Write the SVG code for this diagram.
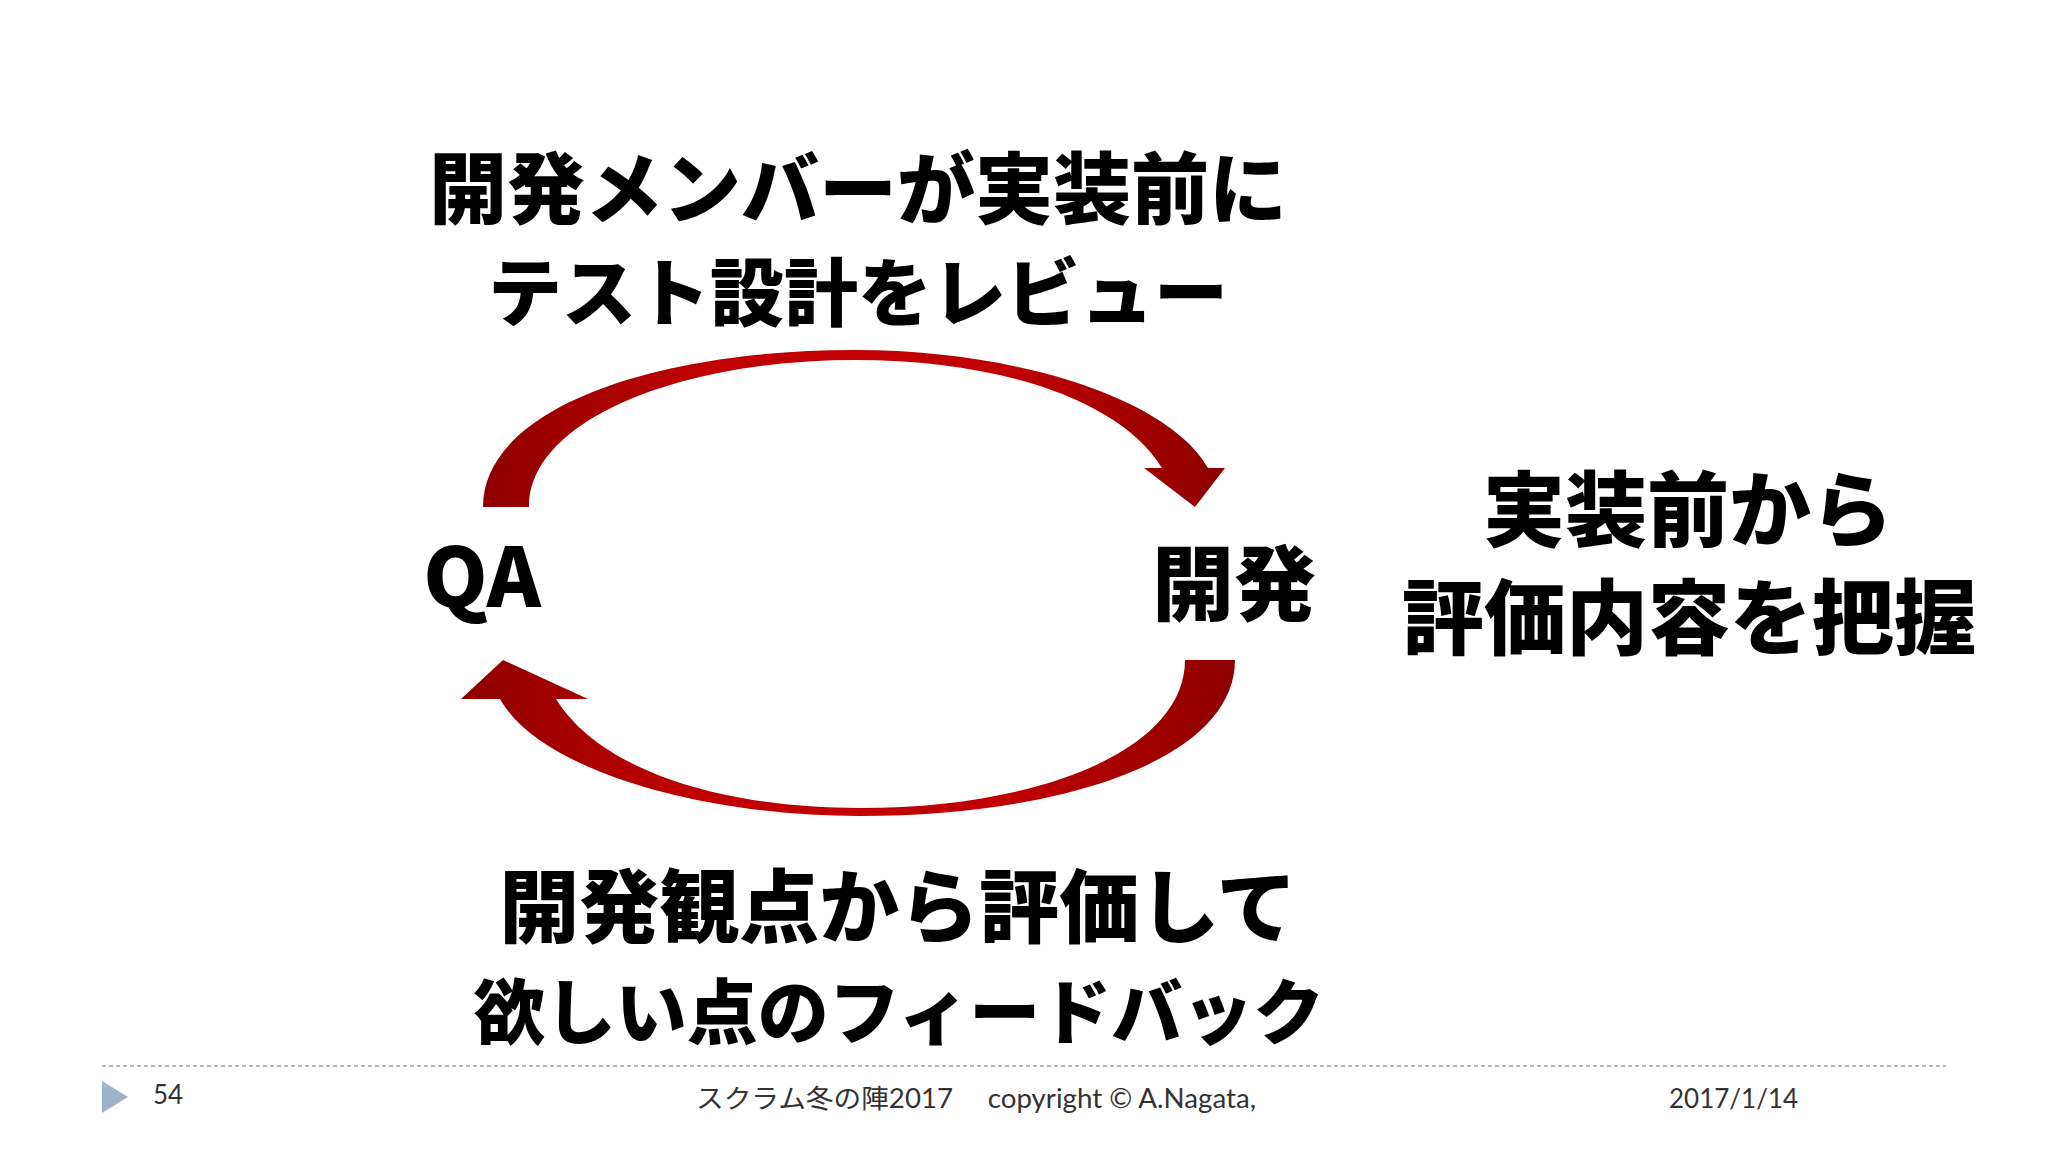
<svg xmlns="http://www.w3.org/2000/svg" width="2048" height="1152" viewBox="0 0 2048 1152">
<style>
.big{font-family:"Noto Sans CJK JP","Noto Sans",sans-serif;font-weight:900;fill:#000;text-anchor:middle}
.ft{font-family:Lato,"Noto Sans CJK JP",sans-serif;font-size:26px;fill:#333}
</style>
<defs>
<linearGradient id="g" x1="0" y1="0" x2="1" y2="0">
<stop offset="0" stop-color="#8e0000"/><stop offset="0.3" stop-color="#c00000"/><stop offset="0.7" stop-color="#c00000"/><stop offset="1" stop-color="#8e0000"/>
</linearGradient>
</defs>
<rect width="2048" height="1152" fill="#fff"/>
<g id="connectors">
<path d="M483,507 C483,410 650,350 855,350 C1020,350 1170,400 1208,468 L1225,468 L1195,507 L1144,468 L1162,468 C1120,400 1000,360 855,360 C680,360 529,420 529,507 Z" fill="url(#g)"/>
<path d="M1235,660 C1235,760 1060,816 860,816 C700,816 540,770 500,699 L461,699 L503,660 L588,699 L556,699 C600,770 720,808 860,808 C1040,808 1185,750 1185,660 Z" fill="url(#g)"/>
</g>
<g id="title"><text class="big" font-size="78" x="858" y="218">開発メンバーが実装前に</text>
<text class="big" font-size="74" x="858" y="320">テスト設計をレビュー</text></g>
<g id="qa"><text class="big" font-size="82" x="482" y="607">QA</text></g>
<g id="dev"><text class="big" font-size="82" x="1234" y="614">開発</text></g>
<g id="right"><text class="big" font-size="82" x="1688" y="540">実装前から</text>
<text class="big" font-size="82" x="1689" y="648">評価内容を把握</text></g>
<g id="bottom"><text class="big" font-size="80" x="898" y="936">開発観点から評価して</text>
<text class="big" font-size="71" x="899" y="1038">欲しい点のフィードバック</text></g>
<g id="footer">
<line x1="102" y1="1066" x2="1946" y2="1066" stroke="#b0b8c4" stroke-width="2" stroke-dasharray="4,3"/>
<polygon points="102,1081 128,1097 102,1113" fill="#9fb3c8"/>
<text class="ft" x="153" y="1104">54</text>
<text class="ft" x="696" y="1108" textLength="560" lengthAdjust="spacingAndGlyphs">スクラム冬の陣2017　 copyright © A.Nagata,</text>
<text class="ft" x="1669" y="1108">2017/1/14</text>
</g>
</svg>
